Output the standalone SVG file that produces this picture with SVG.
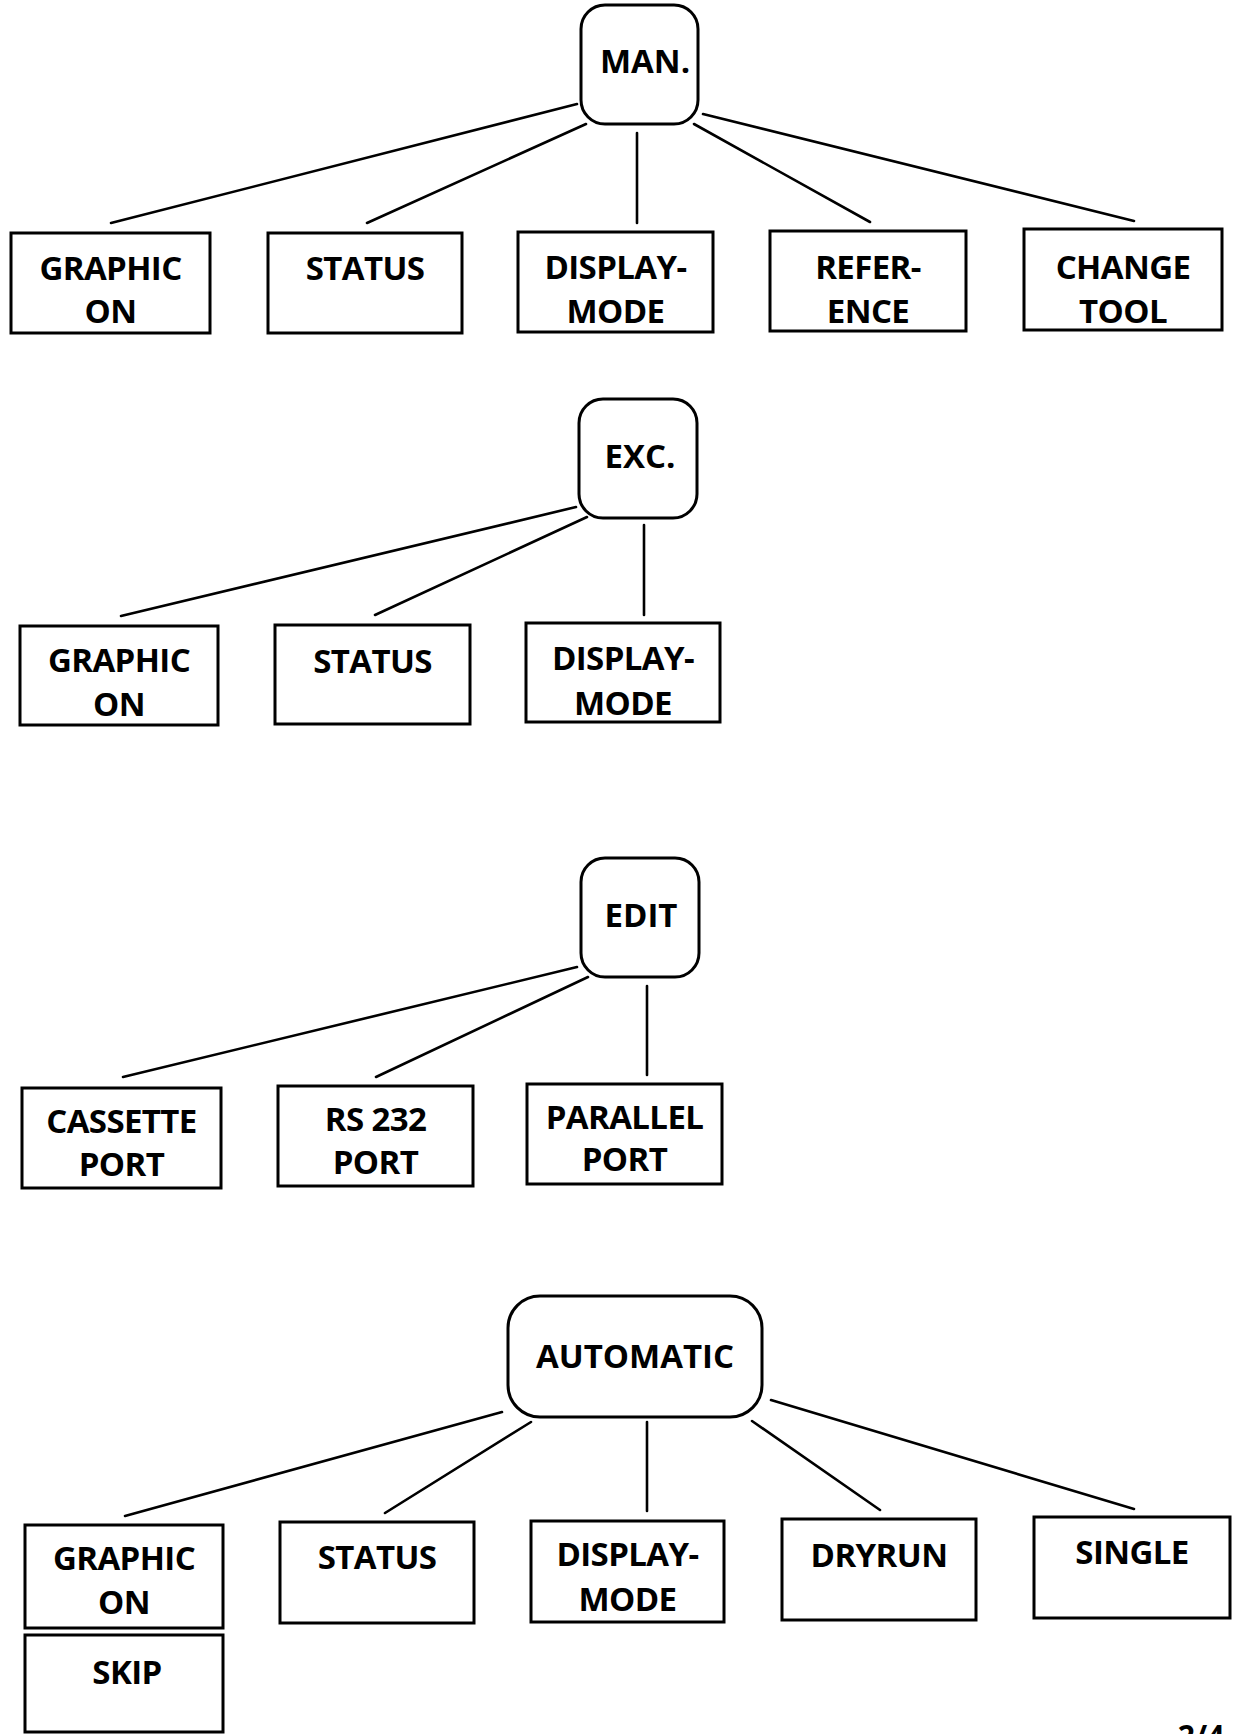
<svg xmlns="http://www.w3.org/2000/svg" width="1233" height="1734" viewBox="0 0 1233 1734">
<style>
.n rect{fill:#fff;stroke:#000;stroke-width:3}
text{font-family:"Open Sans","Liberation Sans",sans-serif;font-weight:700;font-size:33px;letter-spacing:-0.6px;text-anchor:middle;fill:#000}
.h{font-size:33px;letter-spacing:0}
#connectors line{stroke:#000;stroke-width:2.6;stroke-linecap:round}
</style>
<rect width="1233" height="1734" fill="#fff"/>
<g id="connectors">
<line x1="577" y1="104" x2="111" y2="223"/>
<line x1="586" y1="124" x2="367" y2="223"/>
<line x1="637" y1="133" x2="637" y2="223"/>
<line x1="694" y1="124" x2="870" y2="222"/>
<line x1="703" y1="114" x2="1134" y2="221"/>
<line x1="576" y1="507" x2="121" y2="616"/>
<line x1="587" y1="517" x2="375" y2="615"/>
<line x1="644" y1="525" x2="644" y2="615"/>
<line x1="577" y1="967" x2="123" y2="1077"/>
<line x1="588" y1="977" x2="376" y2="1077"/>
<line x1="647" y1="986" x2="647" y2="1075"/>
<line x1="502" y1="1412" x2="125" y2="1516"/>
<line x1="531" y1="1422" x2="385" y2="1513"/>
<line x1="647" y1="1422" x2="647" y2="1511"/>
<line x1="752" y1="1421" x2="880" y2="1510"/>
<line x1="771" y1="1400" x2="1134" y2="1509"/>
</g>
<g id="man" class="n"><rect x="581" y="5" width="117" height="119" rx="24"/><text class="h" x="645" y="73">MAN.</text></g>
<g id="man-graphic" class="n"><rect x="11" y="233" width="199" height="100"/><text x="110.5" y="280">GRAPHIC</text><text x="110.5" y="323">ON</text></g>
<g id="man-status" class="n"><rect x="268" y="233" width="194" height="100"/><text x="365" y="280">STATUS</text></g>
<g id="man-display" class="n"><rect x="518" y="232" width="195" height="100"/><text x="615.5" y="279">DISPLAY-</text><text x="615.5" y="323">MODE</text></g>
<g id="man-reference" class="n"><rect x="770" y="231" width="196" height="100"/><text x="868" y="279">REFER-</text><text x="868" y="323">ENCE</text></g>
<g id="man-change" class="n"><rect x="1024" y="229" width="198" height="101"/><text x="1123" y="279">CHANGE</text><text x="1123" y="323">TOOL</text></g>

<g id="exc" class="n"><rect x="579" y="399" width="118" height="119" rx="24"/><text class="h" x="640" y="468">EXC.</text></g>
<g id="exc-graphic" class="n"><rect x="20" y="626" width="198" height="99"/><text x="119" y="672">GRAPHIC</text><text x="119" y="716">ON</text></g>
<g id="exc-status" class="n"><rect x="275" y="625" width="195" height="99"/><text x="372.5" y="673">STATUS</text></g>
<g id="exc-display" class="n"><rect x="526" y="623" width="194" height="99"/><text x="623" y="670">DISPLAY-</text><text x="623" y="715">MODE</text></g>

<g id="edit" class="n"><rect x="581" y="858" width="118" height="119" rx="24"/><text class="h" x="641" y="927">EDIT</text></g>
<g id="edit-cassette" class="n"><rect x="22" y="1088" width="199" height="100"/><text x="121.5" y="1133">CASSETTE</text><text x="121.5" y="1176">PORT</text></g>
<g id="edit-rs232" class="n"><rect x="278" y="1086" width="195" height="100"/><text x="375.5" y="1131">RS 232</text><text x="375.5" y="1174">PORT</text></g>
<g id="edit-parallel" class="n"><rect x="527" y="1084" width="195" height="100"/><text x="624.5" y="1129">PARALLEL</text><text x="624.5" y="1171">PORT</text></g>

<g id="automatic" class="n"><rect x="508" y="1296" width="254" height="121" rx="32"/><text class="h" x="635" y="1368">AUTOMATIC</text></g>
<g id="auto-graphic" class="n"><rect x="25" y="1525" width="198" height="103"/><text x="124" y="1570">GRAPHIC</text><text x="124" y="1614">ON</text></g>
<g id="auto-skip" class="n"><rect x="25" y="1635" width="198" height="97"/><text x="127" y="1684">SKIP</text></g>
<g id="auto-status" class="n"><rect x="280" y="1522" width="194" height="101"/><text x="377" y="1569">STATUS</text></g>
<g id="auto-display" class="n"><rect x="531" y="1521" width="193" height="101"/><text x="627.5" y="1566">DISPLAY-</text><text x="627.5" y="1611">MODE</text></g>
<g id="auto-dryrun" class="n"><rect x="782" y="1519" width="194" height="101"/><text x="879" y="1567">DRYRUN</text></g>
<g id="auto-single" class="n"><rect x="1034" y="1517" width="196" height="101"/><text x="1132" y="1564">SINGLE</text></g>
<text x="1201" y="1747" style="font-size:30px;letter-spacing:0">2/4</text>
</svg>
